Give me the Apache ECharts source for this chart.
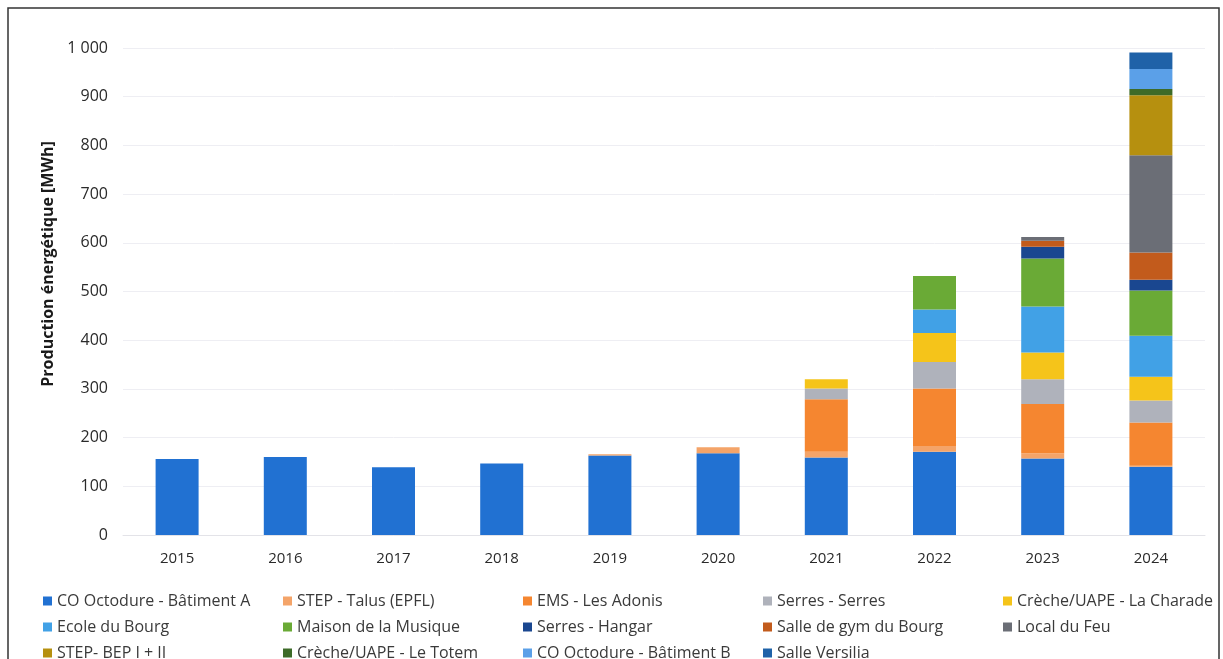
<!DOCTYPE html>
<html>
<head>
<meta charset="utf-8">
<script src="https://cdn.jsdelivr.net/npm/echarts@6/dist/echarts.min.js"></script>
<style>html,body{margin:0;padding:0;background:#fff}#c{width:1223px;height:659px}</style>
</head>
<body>
<div id="c"></div>
<script>
const years = ['2015','2016','2017','2018','2019','2020','2021','2022','2023','2024'];
const coOctodureA = [156, 160, 139, 147, 163, 168, 159, 171, 157, 140];
const stepTalus   = [0, 0, 0, 0, 3, 12, 12, 12, 11, 2];
const emsAdonis   = [0, 0, 0, 0, 0, 0, 108, 118, 101, 89];
const serres      = [0, 0, 0, 0, 0, 0, 22, 54, 51, 45];
const charade     = [0, 0, 0, 0, 0, 0, 19, 60, 55, 49];
const ecoleBourg  = [0, 0, 0, 0, 0, 0, 0, 48, 94, 84];
const musique     = [0, 0, 0, 0, 0, 0, 0, 69, 99, 93];
const hangar      = [0, 0, 0, 0, 0, 0, 0, 0, 24, 22];
const salleGym    = [0, 0, 0, 0, 0, 0, 0, 0, 12, 56];
const localFeu    = [0, 0, 0, 0, 0, 0, 0, 0, 8, 200];
const stepBep     = [0, 0, 0, 0, 0, 0, 0, 0, 0, 123];
const totem       = [0, 0, 0, 0, 0, 0, 0, 0, 0, 13];
const coOctodureB = [0, 0, 0, 0, 0, 0, 0, 0, 0, 41];
const versilia    = [0, 0, 0, 0, 0, 0, 0, 0, 0, 34];
const yTicks = [0, 100, 200, 300, 400, 500, 600, 700, 800, 900, 1000];
const yTitle = 'Production énergétique [MWh]';

const seriesDefs = [
  ['CO Octodure - Bâtiment A', coOctodureA, '#2171d2'],
  ['STEP - Talus (EPFL)', stepTalus, '#f4a469'],
  ['EMS - Les Adonis', emsAdonis, '#f58630'],
  ['Serres - Serres', serres, '#afb2bb'],
  ['Crèche/UAPE - La Charade', charade, '#f5c41a'],
  ['Ecole du Bourg', ecoleBourg, '#41a1e6'],
  ['Maison de la Musique', musique, '#6aaa36'],
  ['Serres - Hangar', hangar, '#1a4790'],
  ['Salle de gym du Bourg', salleGym, '#c25b1c'],
  ['Local du Feu', localFeu, '#6b6e76'],
  ['STEP- BEP I + II', stepBep, '#b6900f'],
  ['Crèche/UAPE - Le Totem', totem, '#3d6b28'],
  ['CO Octodure - Bâtiment B', coOctodureB, '#5ba0e8'],
  ['Salle Versilia', versilia, '#1f62a8']
];

const FONT = '"Open Sans",sans-serif';
const chart = echarts.init(document.getElementById('c'));
chart.setOption({
  animation: false,
  graphic: [{
    type: 'rect', shape: {x: 8, y: 8, width: 1211, height: 660},
    style: {fill: 'none', stroke: '#333', lineWidth: 1.5}, silent: true
  }, {
    type: 'text', x: 48, y: 264, rotation: Math.PI / 2, silent: true,
    style: {text: yTitle, fontFamily: FONT, fontSize: 16, fontWeight: 'bold', fill: '#1a1a1a',
            align: 'center', verticalAlign: 'middle'}
  }],
  grid: {left: 123, right: 18, top: 48, bottom: 124},
  legend: {
    left: 38, top: 588, width: 1190,
    itemWidth: 9, itemHeight: 9, itemGap: 10, icon: 'rect',
    textStyle: {fontFamily: FONT, fontSize: 16, color: '#3a3a3a', width: 216, lineHeight: 15, padding: [0,0,0,0]},
    data: seriesDefs.map(d => d[0])
  },
  xAxis: {
    type: 'category', data: years,
    axisLine: {lineStyle: {color: '#e3e3e8'}},
    axisTick: {show: false},
    axisLabel: {fontFamily: FONT, fontSize: 15, color: '#2a2a2a', margin: 16}
  },
  yAxis: {
    type: 'value', min: 0, max: 1000, interval: 100,
    axisLine: {show: false}, axisTick: {show: false},
    splitLine: {lineStyle: {color: '#eeeef3'}},
    axisLabel: {
      fontFamily: FONT, fontSize: 16, color: '#2a2a2a', margin: 15,
      formatter: v => yTicks.includes(v) ? String(v).replace(/\B(?=(\d{3})+(?!\d))/g, ' ') : ''
    }
  },
  series: seriesDefs.map(d => ({
    name: d[0], type: 'bar', stack: 'total', barWidth: 43,
    data: d[1].map(v => v === 0 ? null : v),
    itemStyle: {color: d[2]}
  }))
});
</script>
</body>
</html>
